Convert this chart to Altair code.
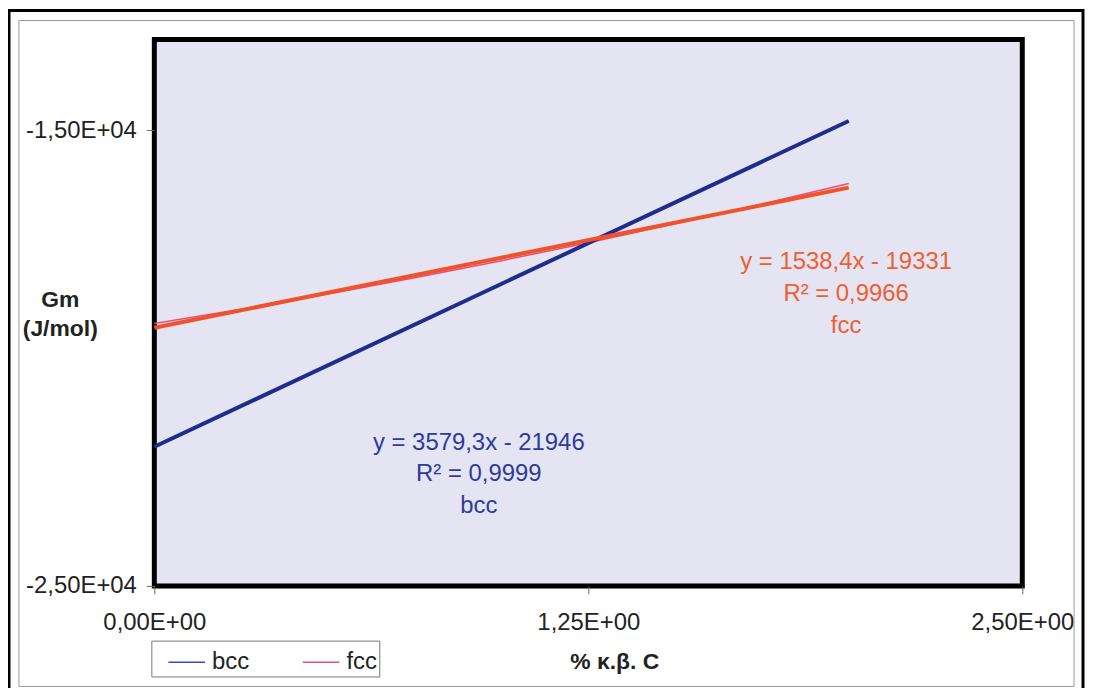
import altair as alt
import pandas as pd

# ---------------- data ----------------
x_vals = [0.0, 0.25, 0.5, 0.75, 1.0, 1.25, 1.5, 1.75, 2.0]
bcc_vals = [-21940, -21055, -20160, -19260, -18365, -17470, -16580, -15685, -14790]
fcc_vals = [-19239, -18923, -18588, -18233, -17859, -17464, -17049, -16616, -16162]
series_names = ["bcc", "fcc"]
bcc_eq = ["y = 3579,3x - 21946", "R² = 0,9999", "bcc"]
fcc_eq = ["y = 1538,4x - 19331", "R² = 0,9966", "fcc"]
x_ticks = [0, 1.25, 2.5]
x_tick_labels = ["0,00E+00", "1,25E+00", "2,50E+00"]
y_ticks = [-25000, -15000]
y_tick_labels = ["-2,50E+04", "-1,50E+04"]
x_title = "% κ.β. C"
y_title = ["Gm", "(J/mol)"]

df = pd.DataFrame({
    "x": x_vals * 2,
    "y": bcc_vals + fcc_vals,
    "series": [series_names[0]] * len(x_vals) + [series_names[1]] * len(x_vals),
})

# ---------------- styles ----------------
FONT = "Liberation Sans"
FS = 24
W, H = 872, 549
data_colors = ["#3a4cc4", "#e8507c"]
trend_colors = ["#1f2c8c", "#f2522a"]
text_colors = ["#2d3b9e", "#ef5f30"]


def expr(values, labels):
    parts = [f"datum.value == {v} ? '{l}'" for v, l in zip(values, labels)]
    return " : ".join(parts) + " : ''"


xscale = alt.Scale(domain=[0, 2.5], nice=False, zero=False)
yscale = alt.Scale(domain=[-25000, -13000], nice=False, zero=False)

x_axis = alt.Axis(
    values=x_ticks, labelExpr=expr(x_ticks, x_tick_labels), grid=False, domain=False,
    tickSize=8, tickColor="#666", labelPadding=17, labelFlush=False, labelOverlap=False,
    labelFont=FONT, labelFontSize=FS, labelColor="#222",
    title=x_title, titleFont=FONT, titleFontSize=23, titleFontWeight="bold", titleColor="#222",
    titleX=462, titleY=76, titleAlign="center", titleBaseline="middle",
)
y_axis = alt.Axis(
    values=y_ticks, labelExpr=expr(y_ticks, y_tick_labels), grid=False, domain=False,
    tickSize=8, tickColor="#666", labelPadding=10, labelFlush=False, labelOverlap=False,
    labelFont=FONT, labelFontSize=FS, labelColor="#222", labelBaseline="middle",
    title=y_title, titleFont=FONT, titleFontSize=23, titleFontWeight="bold", titleColor="#222",
    titleAngle=0, titleX=-95, titleY=261, titleAlign="center", titleBaseline="middle",
    titleLineHeight=29,
)

base = alt.Chart(df)

data_lines = base.mark_line(strokeWidth=1.5).encode(
    x=alt.X("x:Q", scale=xscale, axis=x_axis),
    y=alt.Y("y:Q", scale=yscale, axis=y_axis),
    color=alt.Color(
        "series:N",
        scale=alt.Scale(domain=series_names, range=data_colors),
        legend=alt.Legend(
            title=None, orient="none", legendX=-3, legendY=604, direction="horizontal",
            symbolType="stroke", symbolSize=1350, symbolStrokeWidth=1.5, symbolOffset=14,
            labelFont=FONT, labelFontSize=FS, labelColor="#222", labelOffset=6,
            columnPadding=38, padding=2, strokeColor="#777", fillColor="white",
        ),
    ),
)

trend = base.transform_regression(
    "x", "y", groupby=["series"], extent=[0, 2]
).mark_line(strokeWidth=4).encode(
    x="x:Q",
    y="y:Q",
    stroke=alt.Stroke("series:N", scale=alt.Scale(domain=series_names, range=trend_colors), legend=None),
)

one = alt.Data(values=[{}])
bcc_text = alt.Chart(one).mark_text(
    font=FONT, fontSize=FS, color=text_colors[0], align="center", baseline="middle",
    lineBreak="\n", lineHeight=32,
).encode(x=alt.value(326), y=alt.value(405), text=alt.value("\n".join(bcc_eq)))
fcc_text = alt.Chart(one).mark_text(
    font=FONT, fontSize=FS, color=text_colors[1], align="center", baseline="middle",
    lineBreak="\n", lineHeight=32,
).encode(x=alt.value(695), y=alt.value(224), text=alt.value("\n".join(fcc_eq)))

outer_frame = alt.Chart(one).mark_rect(filled=False, stroke="black", strokeWidth=3).encode(
    x=alt.value(-146), x2=alt.value(933), y=alt.value(-29), y2=alt.value(700)
)
inner_frame = alt.Chart(one).mark_rect(filled=False, stroke="#999", strokeWidth=1).encode(
    x=alt.value(-136), x2=alt.value(924), y=alt.value(-19), y2=alt.value(650)
)
cover = alt.Chart(one).mark_rect(fill="white").encode(
    x=alt.value(925), x2=alt.value(931), y=alt.value(568), y2=alt.value(602)
)

chart = alt.layer(
    data_lines, trend, bcc_text, fcc_text, cover, inner_frame, outer_frame
).resolve_scale(color="independent").properties(
    width=W, height=H,
    autosize=alt.AutoSizeParams(type="none"),
    padding={"left": 147, "top": 30, "right": 63, "bottom": 101},
    background="white",
).configure_view(
    stroke="black", strokeWidth=5, fill="#e4e4f2"
)

chart.save("out.html", embed_options={"renderer": "svg", "actions": False})
